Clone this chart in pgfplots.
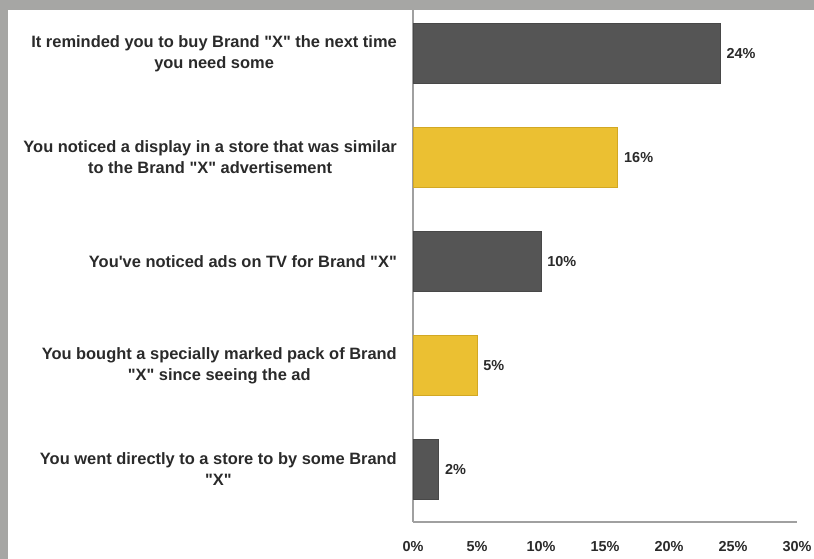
\documentclass[border=0pt]{standalone}
\usepackage{fontspec}
\setmainfont{Liberation Sans}
\usepackage{pgfplots}
\pgfplotsset{compat=1.18}
\definecolor{frame}{HTML}{A6A6A4}
\definecolor{darkbar}{HTML}{555555}
\definecolor{darkedge}{HTML}{484848}
\definecolor{yellowbar}{HTML}{EBC032}
\definecolor{yellowedge}{HTML}{D2A824}
\definecolor{axisgray}{HTML}{A0A0A0}
\definecolor{txt}{HTML}{2A2A2A}
\newcommand{\q}{\textquotedbl}
\begin{document}
\begin{tikzpicture}
\path[use as bounding box] (0,0) rectangle (814bp,559bp);
\fill[frame] (0,0) rectangle (814bp,559bp);
\fill[white] (8bp,0) rectangle (814bp,549bp);
\begin{axis}[
  at={(413bp,37bp)}, anchor=south west,
  scale only axis, width=384bp, height=512bp,
  xbar, bar width=60bp,
  xmin=0, xmax=30,
  ymin=-0.418, ymax=4.505, y dir=reverse,
  axis lines*=left,
  axis line style={axisgray, line width=1.6bp},
  major tick length=0pt,
  xtick={0,5,...,30},
  xticklabel={\pgfmathprintnumber{\tick}\%},
  /pgf/number format/assume math mode=true,
  xticklabel style={font=\fontsize{14.5}{16}\selectfont\bfseries, text=txt, inner sep=0pt, yshift=-19bp},
  ytick={0,1,2,3,4},
  yticklabels={{It reminded you to buy Brand \q X\q{} the next time\\you need some},
               {You noticed a display in a store that was similar\\to the Brand \q X\q{} advertisement},
               {You\textquotesingle ve noticed ads on TV for Brand \q X\q},
               {You bought a specially marked pack of Brand\\\q X\q{} since seeing the ad},
               {You went directly to a store to by some Brand\\\q X\q}},
  yticklabel style={align=center, font=\fontsize{16.5}{21}\selectfont\bfseries, text=txt, inner sep=0pt, xshift=-16bp},
  nodes near coords={\pgfmathprintnumber{\pgfplotspointmeta}\%},
  nodes near coords style={font=\fontsize{14.5}{16}\selectfont\bfseries, text=txt, inner sep=0pt, xshift=6bp},
  clip=false,
]
\addplot[bar shift=0pt, fill=darkbar, draw=darkedge, line width=0.8bp] coordinates {(24,0) (10,2) (2,4)};
\addplot[bar shift=0pt, fill=yellowbar, draw=yellowedge, line width=0.8bp] coordinates {(16,1) (5,3)};
\end{axis}
\end{tikzpicture}
\end{document}
